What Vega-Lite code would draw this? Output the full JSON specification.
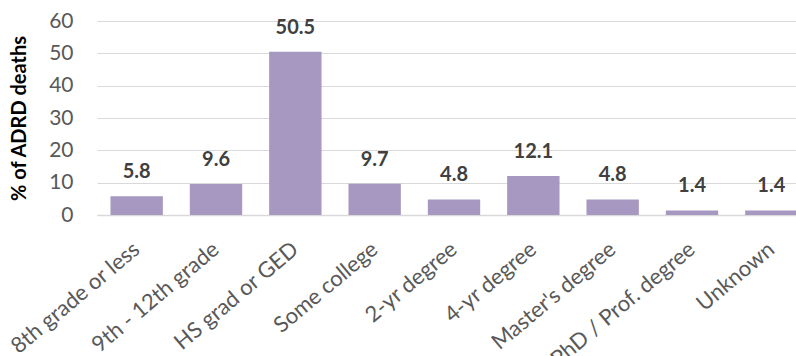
{
  "$schema": "https://vega.github.io/schema/vega-lite/v6.json",
  "autosize": "none",
  "width": 714,
  "height": 194,
  "padding": {"left": 97, "top": 21, "right": 0, "bottom": 141},
  "background": "white",
  "config": {
    "view": {"stroke": null},
    "font": "Lato",
    "axis": {"labelFont": "Lato", "titleFont": "Lato"}
  },
  "data": {
    "values": [
      {"education": "8th grade or less", "pct": 5.8},
      {"education": "9th - 12th grade", "pct": 9.6},
      {"education": "HS grad or GED", "pct": 50.5},
      {"education": "Some college", "pct": 9.7},
      {"education": "2-yr degree", "pct": 4.8},
      {"education": "4-yr degree", "pct": 12.1},
      {"education": "Master's degree", "pct": 4.8},
      {"education": "PhD / Prof. degree", "pct": 1.4},
      {"education": "Unknown", "pct": 1.4}
    ]
  },
  "encoding": {
    "x": {
      "field": "education",
      "type": "nominal",
      "sort": null,
      "scale": {"paddingInner": 0.34, "paddingOuter": 0.17},
      "axis": {
        "title": null,
        "labelAngle": -40,
        "labelAlign": "right",
        "labelBaseline": "middle",
        "labelFontSize": 22,
        "labelColor": "#595959",
        "labelPadding": 31,
        "ticks": false,
        "domainColor": "#D9D9D9",
        "domainWidth": 1.5,
        "grid": false,
        "labelOverlap": false,
        "labelLimit": 400
      }
    },
    "y": {
      "field": "pct",
      "type": "quantitative",
      "scale": {"domain": [0, 60], "nice": false},
      "axis": {
        "title": "% of ADRD deaths",
        "titleFontSize": 20,
        "titleFontWeight": "bold",
        "titleColor": "#000000",
        "titlePadding": 19,
        "values": [0, 10, 20, 30, 40, 50, 60],
        "labelFontSize": 21,
        "labelColor": "#595959",
        "labelPadding": 24,
        "ticks": false,
        "domain": false,
        "grid": true,
        "gridColor": "#D9D9D9",
        "gridWidth": 1.2
      }
    }
  },
  "layer": [
    {"mark": {"type": "bar", "color": "#A698C0"}},
    {
      "mark": {
        "type": "text",
        "baseline": "alphabetic",
        "dy": -18,
        "fontSize": 20,
        "fontWeight": "bold",
        "color": "#404040"
      },
      "encoding": {"text": {"field": "pct", "type": "quantitative", "format": ".1f"}}
    }
  ]
}
